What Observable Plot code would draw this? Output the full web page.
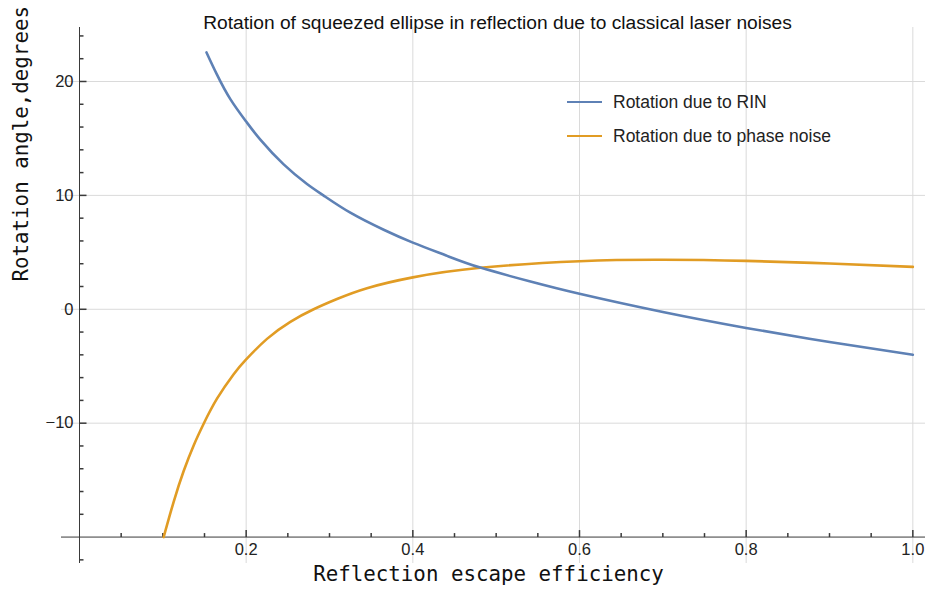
<!DOCTYPE html>
<html>
<head>
<meta charset="utf-8">
<script src="https://cdn.jsdelivr.net/npm/d3@7"></script>
<script src="https://cdn.jsdelivr.net/npm/@observablehq/plot@0.6"></script>
<style>
  html, body { margin: 0; padding: 0; background: #fff; }
  #wrap { position: relative; width: 928px; height: 598px; }
  #legend { position: absolute; left: 567px; top: 85px; font-family: "Liberation Sans", Arial, sans-serif; font-size: 17.5px; color: #222; }
  .row { display: flex; align-items: center; height: 34px; }
  .sw { width: 35px; height: 2.5px; margin-right: 11px; }
</style>
</head>
<body>
<div id="wrap"><div id="legend"></div></div>
<script>
// ---- data ----
const title = "Rotation of squeezed ellipse in reflection due to classical laser noises";
const xLabel = "Reflection escape efficiency";
const yLabel = "Rotation angle,degrees";
const seriesNames = ["Rotation due to RIN", "Rotation due to phase noise"];
const seriesColors = ["#5E81B5", "#E19C24"];

const rinX = [0.1524, 0.165, 0.181, 0.2, 0.217, 0.245, 0.273, 0.293, 0.325, 0.365, 0.4, 0.44, 0.481, 0.54, 0.6, 0.7, 0.8, 0.9, 1.0];
const rinY = [22.55, 20.6, 18.45, 16.48, 14.9, 12.72, 11.0, 9.98, 8.48, 6.98, 5.85, 4.72, 3.66, 2.46, 1.36, -0.24, -1.64, -2.87, -4.0];

const phaseX = [0.101, 0.113, 0.125, 0.137, 0.149, 0.165, 0.185, 0.2, 0.225, 0.253, 0.281, 0.309, 0.345, 0.4, 0.481, 0.6, 0.7, 0.8, 0.9, 1.0];
const phaseY = [-20.0, -16.9, -14.2, -11.95, -10.05, -7.85, -5.7, -4.4, -2.6, -1.1, 0.0, 0.9, 1.85, 2.8, 3.64, 4.22, 4.35, 4.25, 4.02, 3.72];

const xMajorTicks = [0.2, 0.4, 0.6, 0.8, 1.0];
const xTickLabels = ["0.2", "0.4", "0.6", "0.8", "1.0"];
const xMinorTicks = [0.05, 0.1, 0.15, 0.25, 0.3, 0.35, 0.45, 0.5, 0.55, 0.65, 0.7, 0.75, 0.85, 0.9, 0.95];
const yMajorTicks = [-10, 0, 10, 20];
const yTickLabels = ["\u221210", "0", "10", "20"];
const yMinorTicks = [-22, -18, -16, -14, -12, -8, -6, -4, -2, 2, 4, 6, 8, 12, 14, 16, 18, 22, 24];
const xDomain = [-0.0216, 1.0152];
const yDomain = [-22.32, 24.74];
const axisCrossX = 0;
const axisCrossY = -20;

// ---- build ----
const rin = rinX.map((x, i) => ({x, y: rinY[i]}));
const phase = phaseX.map((x, i) => ({x, y: phaseY[i]}));

const tick = (dx, dy) => ({draw(ctx) { ctx.moveTo(0, 0); ctx.lineTo(dx, dy); }});
const axisColor = "#3a3a3a";
const gridColor = "#dadada";
const labelFont = "Liberation Sans, Arial, sans-serif";
const monoFont = "DejaVu Sans Mono, monospace";

const chart = Plot.plot({
  width: 928,
  height: 598,
  marginLeft: 61,
  marginRight: 3,
  marginTop: 27,
  marginBottom: 35,
  style: {fontFamily: labelFont, background: "#fff"},
  x: {domain: xDomain, axis: null},
  y: {domain: yDomain, axis: null},
  marks: [
    Plot.ruleX(xMajorTicks, {stroke: gridColor, strokeWidth: 1}),
    Plot.ruleY(yMajorTicks, {stroke: gridColor, strokeWidth: 1}),
    Plot.ruleY([axisCrossY], {stroke: axisColor, strokeWidth: 1}),
    Plot.ruleX([axisCrossX], {stroke: axisColor, strokeWidth: 1}),
    Plot.dot(xMajorTicks, {x: d => d, y: () => axisCrossY, symbol: tick(0, -7), r: 1, stroke: axisColor, fill: "none"}),
    Plot.dot(xMinorTicks, {x: d => d, y: () => axisCrossY, symbol: tick(0, -4), r: 1, stroke: axisColor, fill: "none"}),
    Plot.dot(yMajorTicks, {x: () => axisCrossX, y: d => d, symbol: tick(7, 0), r: 1, stroke: axisColor, fill: "none"}),
    Plot.dot(yMinorTicks, {x: () => axisCrossX, y: d => d, symbol: tick(4, 0), r: 1, stroke: axisColor, fill: "none"}),
    Plot.text(xMajorTicks, {x: d => d, y: () => axisCrossY, text: (d, i) => xTickLabels[i], dy: 13, fontSize: 16.5, fill: "#222"}),
    Plot.text(yMajorTicks, {x: () => axisCrossX, y: d => d, text: (d, i) => yTickLabels[i], dx: -6, textAnchor: "end", fontSize: 16.5, fill: "#222"}),
    Plot.line(phase, {x: "x", y: "y", stroke: seriesColors[1], strokeWidth: 2.6, curve: "natural"}),
    Plot.line(rin, {x: "x", y: "y", stroke: seriesColors[0], strokeWidth: 2.6, curve: "natural"}),
    Plot.text([title], {frameAnchor: "top", dy: -12, dx: 4, fontSize: 19.2, fill: "#111"}),
    Plot.text([xLabel], {frameAnchor: "bottom", dy: 17, dx: -5, fontSize: 20.8, fontFamily: monoFont, fill: "#111"}),
    Plot.text([yLabel], {frameAnchor: "left", rotate: -90, dx: -40, dy: -14, fontSize: 20.8, fontFamily: monoFont, fill: "#111"})
  ]
});
document.getElementById("wrap").prepend(chart);

const legend = document.getElementById("legend");
seriesNames.forEach((name, i) => {
  const row = document.createElement("div");
  row.className = "row";
  const sw = document.createElement("div");
  sw.className = "sw";
  sw.style.background = seriesColors[i];
  const t = document.createElement("span");
  t.textContent = name;
  row.append(sw, t);
  legend.append(row);
});
</script>
</body>
</html>
